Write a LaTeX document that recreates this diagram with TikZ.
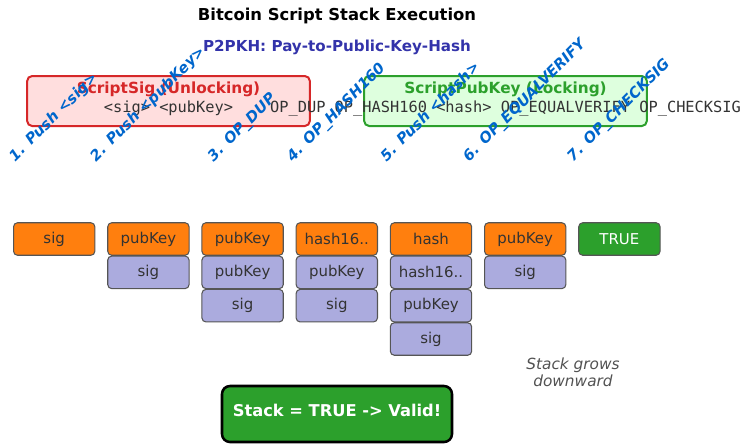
\documentclass[tikz,border=0pt]{standalone}
\usepackage{fontspec}
\setmainfont{DejaVu Sans}
\setmonofont{DejaVu Sans Mono}
\usepackage{graphicx}
\usetikzlibrary{positioning}
\definecolor{stackorange}{RGB}{255,127,14}
\definecolor{stacklav}{RGB}{171,171,222}
\definecolor{okgreen}{RGB}{44,160,44}
\definecolor{sigred}{RGB}{214,39,40}
\definecolor{sigfill}{RGB}{255,222,222}
\definecolor{pkfill}{RGB}{222,255,222}
\definecolor{subblue}{RGB}{51,51,170}
\definecolor{stepblue}{RGB}{0,102,204}
\definecolor{itemtext}{RGB}{51,51,51}
\definecolor{itemedge}{RGB}{85,85,85}
\tikzset{
    stacknode/.style = {align=center, inner sep=0pt, outer sep=0pt, rounded corners=3pt, draw=itemedge, line width=0.8pt, minimum width=61pt, minimum height=24.4pt, text=itemtext, font=\fontsize{11.2}{13.4}\selectfont},
    top_node/.style = {stacknode, fill=stackorange},
    item_node/.style = {stacknode, fill=stacklav},
    true_node/.style = {stacknode, fill=okgreen, text=white},
    step_label/.style = {inner sep=0pt, anchor=south, text=stepblue, font=\fontsize{11.1}{13.2}\bfseries\itshape\selectfont}
}
\tikzset{
    scriptbox/.style = {inner sep=0pt, rounded corners=3.75pt, line width=1.5pt, minimum width=212pt, minimum height=37.5pt},
    sig_box/.style = {scriptbox, draw=sigred, fill=sigfill},
    pk_box/.style = {scriptbox, draw=okgreen, fill=pkfill},
    boxtitle/.style = {inner sep=0pt, anchor=base, font=\fontsize{11.5}{13.8}\bfseries\selectfont},
    codetext/.style = {inner sep=0pt, anchor=base, text=itemtext, font=\fontsize{11.5}{13.8}\ttfamily},
    note_text/.style = {inner sep=0pt, anchor=base, text=itemtext!85!white, font=\fontsize{11.5}{13.8}\itshape\selectfont}
}

\begin{document}
\begin{tikzpicture}
    [x=0.75pt, y=-0.75pt,
    node distance = 0.6pt and 9.65pt]

    \useasboundingbox (0,0) rectangle (742,444);

    % titles
    \node [inner sep=0pt, anchor=base, font=\fontsize{12.3}{14.8}\bfseries\selectfont] (title) at (337,20.5) {Bitcoin Script Stack Execution};
    \node [inner sep=0pt, anchor=base, text=subblue, font=\fontsize{11.35}{13.6}\bfseries\selectfont] (subtitle) at (337,51.5) {P2PKH: Pay-to-Public-Key-Hash};

    % script boxes
    \node [sig_box] (sigbox) at (168.5,101) {};
    \node [pk_box] (pkbox) at (505.5,101) {};
    \node [boxtitle, text=sigred] (sigtitle) at (168.5,93) {ScriptSig (Unlocking)};
    \node [boxtitle, text=okgreen] (pktitle) at (505.5,93) {ScriptPubKey (Locking)};
    \node [codetext] (sigcode) at (168.5,112) {<sig> <pubKey>};
    \node [codetext] (pkcode) at (505.5,112) {OP\_DUP OP\_HASH160 <hash> OP\_EQUALVERIFY OP\_CHECKSIG};

    % stacks after each step
    \node [top_node] (t1) at (54.2,239) {sig};
    \node [top_node, right=of t1] (t2) {pubKey};
    \node [top_node, right=of t2] (t3) {pubKey};
    \node [top_node, right=of t3] (t4) {hash16..};
    \node [top_node, right=of t4] (t5) {hash};
    \node [top_node, right=of t5] (t6) {pubKey};
    \node [true_node, right=of t6] (t7) {TRUE};

    \node [item_node, below=of t2] (t2b) {sig};
    \node [item_node, below=of t3] (t3b) {pubKey};
    \node [item_node, below=of t3b] (t3c) {sig};
    \node [item_node, below=of t4] (t4b) {pubKey};
    \node [item_node, below=of t4b] (t4c) {sig};
    \node [item_node, below=of t5] (t5b) {hash16..};
    \node [item_node, below=of t5b] (t5c) {pubKey};
    \node [item_node, below=of t5c] (t5d) {sig};
    \node [item_node, below=of t6] (t6b) {sig};

    % step labels
    \coordinate (lbase) at (0,166);
    \node [step_label] (l1) at (t1 |- lbase) {\rotatebox{45}{\strut 1. Push <sig>}};
    \node [step_label] (l2) at (t2 |- lbase) {\rotatebox{45}{\strut 2. Push <pubKey>}};
    \node [step_label] (l3) at (t3 |- lbase) {\rotatebox{45}{\strut 3. OP\_DUP}};
    \node [step_label] (l4) at (t4 |- lbase) {\rotatebox{45}{\strut 4. OP\_HASH160}};
    \node [step_label] (l5) at (t5 |- lbase) {\rotatebox{45}{\strut 5. Push <hash>}};
    \node [step_label] (l6) at (t6 |- lbase) {\rotatebox{45}{\strut 6. OP\_EQUALVERIFY}};
    \node [step_label] (l7) at (t7 |- lbase) {\rotatebox{45}{\strut 7. OP\_CHECKSIG}};

    \node [note_text] (grow1) at (573,369) {Stack grows};
    \node [note_text] (grow2) at (573,386) {downward};

    \node [inner sep=0pt, rounded corners=6pt, draw=black, line width=1.9pt, fill=okgreen, minimum width=172.5pt, minimum height=42pt] (result) at (337,414) {};
    \node [inner sep=0pt, anchor=base, text=white, font=\fontsize{12.2}{14.6}\bfseries\selectfont] (resulttext) at (337,416) {Stack = TRUE -> Valid!};
\end{tikzpicture}
\end{document}
